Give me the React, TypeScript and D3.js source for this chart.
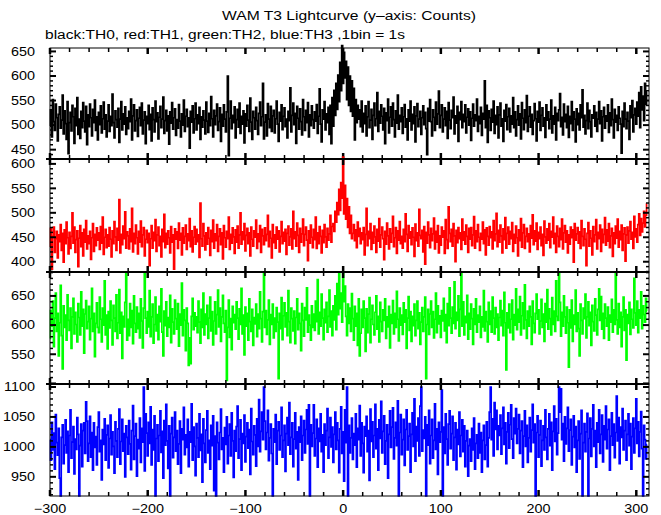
import React from 'react';
import * as d3 from 'd3';

const TIME_START = -300;

// TH0 (black) counts per 1 s bin, t = -300 ... 311
const th0 = [
498,531,476,552,507,489,543,515,468,522,
537,494,510,561,482,529,503,471,548,442,
505,526,488,540,517,463,534,499,556,481,
512,473,528,495,546,508,486,538,460,521,
497,543,515,478,532,505,551,489,517,470,
526,501,539,484,513,547,492,521,476,508,
541,487,518,499,563,505,474,529,511,496,
534,465,512,548,490,523,502,537,481,515,
493,528,507,553,470,519,541,488,509,531,
477,514,536,499,545,482,510,527,462,518,
503,540,491,522,468,535,511,486,549,507,
525,472,516,538,495,512,557,483,509,530,
488,519,461,527,504,546,492,515,533,479,
511,494,542,508,476,523,500,551,487,518,
532,497,515,453,528,506,539,484,513,545,
490,521,503,536,471,517,496,529,510,482,
547,508,485,524,499,558,513,476,530,501,
519,543,489,507,535,467,522,498,541,512,
486,527,600,438,514,549,493,520,505,537,
474,511,532,496,545,483,518,502,529,464,
523,498,540,510,487,555,506,471,528,515,
492,536,509,481,524,547,499,517,585,472,
506,521,478,544,512,495,538,487,519,530,
484,513,549,502,467,526,508,541,491,518,
535,497,512,474,528,509,576,486,520,545,
501,524,463,538,514,492,533,507,480,552,
517,489,530,505,546,476,521,499,539,511,
494,527,508,542,483,518,574,502,466,531,
512,548,490,523,505,536,481,540,462,556,
498,571,520,585,532,602,548,628,570,662,
585,648,596,630,552,618,540,600,528,590,
518,575,470,552,505,540,512,531,497,549,
486,524,503,539,478,517,548,495,510,532,
471,520,545,499,513,566,487,528,504,541,
518,490,534,462,525,509,553,484,516,537,
498,545,511,476,529,504,561,492,520,507,
535,483,517,542,496,513,470,531,508,549,
490,522,503,537,466,519,544,497,512,528,
481,515,539,501,526,493,440,534,508,552,
507,478,531,516,489,547,502,523,569,495,
520,541,486,512,535,499,528,473,546,510,
493,530,515,557,482,519,504,538,467,526,
511,548,495,522,507,541,484,516,533,500,
527,469,514,543,498,521,509,553,487,518,
503,536,479,524,512,590,495,540,465,529,
515,489,532,506,549,483,520,501,537,474,
521,545,498,513,467,530,508,542,491,517,
534,486,519,502,556,495,527,478,511,539,
500,523,472,546,514,491,531,505,560,487,
518,537,496,522,481,509,544,513,468,528,
506,547,489,520,535,498,515,475,541,510,
527,493,512,551,484,519,502,536,470,524,
509,531,564,497,516,480,543,507,522,495,
538,475,518,503,548,489,527,512,466,533,
501,524,490,541,515,572,496,520,482,509,
545,493,530,507,476,521,514,539,498,526,
487,512,548,503,529,468,517,536,494,519,
508,541,485,525,499,553,511,474,532,506,
520,489,537,514,502,443,528,497,545,512,
493,526,508,471,539,515,550,486,521,534,
502,547,518,566,495,578,531,559,509,585,
542,568
];

// TH1 (red)
const th1 = [
430,468,385,452,471,419,447,462,408,455,
441,476,423,458,399,465,437,481,449,416,
460,427,452,500,438,471,419,445,463,390,
448,474,431,459,412,466,440,484,426,453,
437,462,405,449,478,421,456,433,469,444,
459,425,472,438,491,415,450,466,429,455,
432,470,446,410,463,437,482,451,423,468,
444,527,418,456,435,473,447,502,428,461,
453,426,467,441,509,420,458,437,475,449,
416,462,440,483,431,455,470,412,446,464,
439,458,392,447,474,428,460,443,486,421,
455,471,433,452,410,466,441,497,429,458,
436,463,449,418,472,440,455,385,467,446,
461,427,479,444,458,414,469,438,452,475,
425,457,443,488,431,463,420,450,472,436,
466,441,455,409,520,447,432,478,453,424,
459,436,470,448,413,464,441,485,428,457,
443,476,421,452,467,435,459,406,474,449,
430,462,447,491,425,456,438,469,451,417,
465,440,473,428,455,500,436,461,445,478,
422,454,468,437,459,412,471,446,432,463,
450,485,427,457,441,474,419,466,453,435,
469,443,456,495,431,462,448,408,476,439,
455,428,471,446,463,420,452,482,437,460,
442,466,415,458,473,434,451,467,426,503,
447,461,432,479,454,419,468,440,457,487,
433,456,471,444,402,463,438,475,450,429,
466,445,491,427,459,437,472,452,418,464,
439,476,451,430,468,444,457,495,440,472,
478,462,503,481,521,496,548,505,562,530,
614,498,556,487,529,470,512,458,495,447,
458,476,443,465,429,481,452,468,437,459,
445,470,414,456,509,433,462,447,478,425,
460,438,473,451,419,466,442,488,430,455,
471,447,404,462,436,479,453,426,467,440,
458,493,431,449,470,417,463,444,482,437,
452,428,466,441,498,456,421,474,448,461,
435,469,450,411,477,443,459,432,507,454,
447,464,420,472,395,460,438,481,455,429,
468,443,457,489,426,462,440,474,418,453,
434,471,450,463,417,486,445,427,512,458,
441,466,432,478,453,400,464,439,470,447,
459,425,487,444,461,436,475,452,419,468,
446,470,433,455,492,428,463,441,476,450,
423,458,446,481,437,465,414,469,452,434,
472,449,461,426,484,443,457,499,431,464,
440,475,453,418,467,445,490,428,458,471,
436,462,447,480,421,456,438,473,449,412,
465,443,488,430,459,476,427,452,468,441,
457,420,474,448,496,435,463,442,479,425,
460,447,471,433,456,413,483,451,438,467,
444,478,429,462,450,491,437,458,419,473,
452,431,468,445,487,426,459,474,440,463,
418,455,436,471,449,465,399,478,444,457,
470,438,461,427,484,452,433,467,446,392,
458,480,432,463,448,414,472,441,455,486,
426,460,447,475,421,466,439,456,490,434,
465,442,478,429,453,468,411,459,437,473,
448,487,430,462,445,475,423,457,469,401,
455,471,438,463,482,446,460,427,493,451,
467,440,476,498,454,488,461,479,503,471,
495,518
];

// TH2 (green)
const th2 = [
577,625,598,641,563,612,655,589,620,547,
604,668,582,525,633,596,617,574,652,608,
591,629,560,614,646,585,622,601,571,637,
613,583,657,598,627,552,619,642,594,606,
632,575,611,663,589,620,546,603,638,596,
587,648,610,571,629,600,676,583,617,559,
623,595,641,608,566,634,612,589,652,577,
604,661,586,622,543,615,597,639,688,574,
610,582,637,596,625,568,650,603,588,631,
594,620,578,645,607,561,629,688,612,586,
623,597,659,580,614,636,569,601,648,590,
618,575,632,606,662,588,547,624,599,640,
581,613,596,651,570,628,605,585,643,611,
593,637,564,619,600,672,582,626,608,556,
629,603,531,578,534,615,646,592,621,598,
614,587,641,605,569,627,596,655,583,619,
601,634,577,612,648,590,623,566,607,640,
585,618,660,597,629,572,614,651,603,588,
625,505,596,643,579,611,558,632,604,618,
593,640,612,576,628,601,663,585,617,549,
631,598,620,574,645,606,589,627,565,613,
602,636,580,619,594,657,611,571,623,688,
596,625,584,609,643,567,618,601,636,578,
612,589,630,605,508,620,594,647,575,616,
638,597,621,582,659,606,570,629,611,590,
624,568,613,645,592,620,603,556,637,608,
581,630,609,664,588,617,600,574,633,596,
619,591,641,606,678,585,622,598,653,612,
575,627,604,639,588,615,660,597,624,582,
633,609,650,592,671,618,690,628,655,605,
688,640,667,615,582,636,603,629,589,654,
611,574,632,598,620,565,645,547,586,627,
596,641,612,555,628,587,619,647,570,610,
634,601,583,622,650,593,615,571,639,606,
589,626,608,645,577,614,597,632,561,618,
603,642,585,620,596,658,610,573,629,600,
617,584,638,605,626,560,612,649,591,623,
572,615,599,636,582,608,641,594,621,567,
605,630,589,614,648,508,601,627,584,619,
641,596,623,578,610,655,587,633,602,616,
579,625,607,646,590,618,570,637,599,664,
612,586,631,603,674,594,622,608,650,581,
627,690,598,640,583,615,604,651,576,620,
593,636,611,567,628,601,645,588,617,605,
632,579,614,597,659,590,623,606,571,639,
601,624,588,648,612,585,630,596,619,574,
613,642,599,625,582,656,604,523,621,595,
636,587,610,643,575,618,600,662,592,627,
605,649,583,616,638,594,669,609,577,624,
598,632,614,567,641,603,587,620,653,610,
626,585,607,644,596,619,572,637,605,661,
593,628,611,583,647,601,624,589,676,615,
608,690,639,581,622,598,650,614,586,631,
604,528,626,595,643,572,617,601,660,589,
621,594,547,636,608,585,629,611,653,578,
614,640,599,622,565,634,606,590,645,617,
583,627,662,608,649,593,620,577,636,612,
598,631,574,617,605,644,588,626,601,690,
609,585,637,596,622,563,614,648,591,626,
540,618,603,639,584,627,610,595,680,621,
600,641,587,626,612,657,594,633,618,605,
646,624
];

// TH3 (blue)
const th3 = [
1012,978,1041,995,1023,963,1054,1007,986,1031,
948,918,1016,1037,972,1003,1045,990,1026,958,
1019,1062,981,1008,1034,955,1013,996,1049,1021,
918,1002,1038,967,1027,1040,989,1075,1043,976,
1006,1051,983,1024,961,1040,999,1017,970,1033,
1058,992,1011,945,1029,1004,1047,978,1020,1036,
965,1014,1053,987,1025,1001,956,1042,1010,983,
1030,1063,971,1009,1046,993,1022,950,1035,1016,
988,1044,1005,962,1027,1069,979,1018,1039,951,
1012,997,1048,974,1031,1008,1100,960,1055,1023,
985,1041,1006,1067,970,1029,995,1052,918,1014,
1037,976,1019,1060,991,1026,948,1044,1003,1071,
1010,964,1035,918,1022,1049,982,1016,1058,993,
1027,971,1005,1043,956,1030,1012,1066,987,1020,
999,1046,967,1025,1008,1072,978,1033,1001,952,
1039,1015,983,1055,994,1021,941,1047,1006,974,
1028,1060,990,1011,963,1036,1002,1052,927,1018,
918,1041,1007,979,1024,1063,996,1015,958,1032,
1004,1050,972,1019,1038,985,1057,1010,949,1027,
993,1034,1068,981,1013,1045,961,1022,1006,1053,
975,1017,1040,998,1029,954,1064,1009,987,1035,
1020,968,1047,1001,1079,992,1026,1058,1012,1100,
1043,996,1024,1061,977,1015,1038,989,918,1030,
1008,1054,971,1027,1042,995,1019,1066,983,1011,
1036,959,1022,1049,1003,1074,988,1016,1040,967,
1013,1057,997,1025,945,1033,1008,1051,978,1019,
1044,990,1029,1062,1005,1070,918,1037,1001,1023,
1070,985,1014,1046,966,1031,1009,1055,992,1020,
958,1038,1003,1027,1064,981,1016,1049,1000,1033,
974,1021,1058,996,1040,1011,957,1030,1067,989,
1025,943,1062,1007,1100,918,1036,990,1015,1048,
979,1022,1003,1055,966,1031,1012,1069,985,1040,
1006,957,1034,1018,1051,992,1027,944,1063,1009,
1042,983,1019,1071,997,1030,961,1045,1014,1076,
990,1026,1052,971,1010,1037,948,1021,1060,999,
1033,1065,980,1015,1041,1002,1077,918,1024,1054,
987,1012,1046,969,1029,1062,995,1018,1039,958,
1021,1057,1001,1080,976,1034,1010,1048,985,1068,
1100,993,1028,1014,1050,918,1037,1003,1061,972,
1019,1046,981,1011,1072,996,1030,954,1041,1008,
1025,1095,918,1033,989,1055,1013,970,1038,1060,
997,1022,1051,978,1016,1040,962,1029,1004,1058,
984,1019,1045,992,1035,967,1010,1027,951,1002,
1013,976,1031,995,1048,963,1006,1020,981,1039,
990,1024,958,1011,1036,979,1003,1042,967,1015,
1058,1100,1012,1047,985,1074,1029,1061,996,1035,
1019,1053,988,1031,1066,1004,1040,972,1025,1057,
998,1037,1070,1013,981,1048,1022,1064,1006,1030,
1054,989,1027,1043,966,1018,1060,1001,1036,974,
1015,1049,992,1028,1071,1007,1038,918,1024,1052,
983,1020,1044,968,1011,1035,995,1062,1016,979,
1030,1055,1002,1041,961,1026,1068,1009,1047,987,
1023,1100,1058,1097,1012,1039,976,1050,1005,1031,
1066,993,1028,1046,970,1017,1052,999,1034,958,
1011,1043,980,1022,1061,918,1007,1039,992,1025,
1056,918,1014,1048,984,1030,1070,1001,1027,966,
1040,1008,1062,989,1021,1053,975,1035,1012,1068,
997,1029,1046,961,1018,1057,1003,1038,982,1024,
1085,1010,1049,972,1033,1016,1064,995,1027,1044,
978,1021,1055,1002,1039,963,1017,1048,990,1031,
1080,1006,1042,984,1025,1059,997,918,1036,1012,
980,1004
];

const xTickLabels = [-300, -200, -100, 0, 100, 200, 300];
const yTicks0 = [450, 500, 550, 600, 650];
const yTicks1 = [400, 450, 500, 550, 600];
const yTicks2 = [550, 600, 650];
const yTicks3 = [950, 1000, 1050, 1100];
const titleText = 'WAM T3 Lightcurve (y\u2013axis: Counts)';
const subtitleText = 'black:TH0, red:TH1, green:TH2, blue:TH3 ,1bin = 1s';

const FONT = '"Liberation Sans", Arial, Helvetica, sans-serif';

const X0 = 50;
const X1 = 649;

const panelDefs = [
  { data: th0, color: '#000000', top: 48, bottom: 159, domain: [431, 657], ticks: yTicks0 },
  { data: th1, color: '#ff0000', top: 159, bottom: 272, domain: [379, 610], ticks: yTicks1 },
  { data: th2, color: '#00ff00', top: 272, bottom: 384, domain: [499, 691], ticks: yTicks2 },
  { data: th3, color: '#0000ff', top: 384, bottom: 496, domain: [918, 1105], ticks: yTicks3 },
];

const fmt = (v: number) => (v < 0 ? '\u2212' + Math.abs(v) : String(v));

export default function App() {
  const x = d3.scaleLinear().domain([-300, 313]).range([X0, X1]);
  const xMinor = d3.range(-300, 314, 20);

  return (
    <div style={{ position: 'absolute', left: 0, top: 0 }}>
      <svg width={661} height={515} style={{ display: 'block', background: '#fff' }} fontFamily={FONT}>
        <rect x={0} y={0} width={661} height={515} fill="#fff" />
        <text x={222} y={20} fontSize={12.5} textLength={254} lengthAdjust="spacingAndGlyphs">{titleText}</text>
        <text x={45} y={39} fontSize={12.5} textLength={360} lengthAdjust="spacingAndGlyphs">{subtitleText}</text>
        {panelDefs.map((p, pi) => {
          const y = d3.scaleLinear().domain(p.domain).range([p.bottom, p.top]);
          const line = d3
            .line<number>()
            .x((_, i) => x(TIME_START + i))
            .y((d) => y(d))
            .curve(d3.curveStep);
          const yMinor = d3.range(Math.ceil(p.domain[0] / 10) * 10, p.domain[1] + 0.001, 10);
          return (
            <g key={pi}>
              <path d={line(p.data) || ''} fill="none" stroke={p.color} strokeWidth={1.7} />
              <rect x={X0} y={p.top} width={X1 - X0} height={p.bottom - p.top} fill="none" stroke="#000" strokeWidth={1} />
              {pi > 0 && <line x1={X0 - 4} x2={X1} y1={p.top} y2={p.top} stroke="#000" strokeWidth={2} />}
              {xMinor.map((t) => {
                const major = t % 100 === 0;
                const len = major ? 6 : 4;
                const sw = major ? 2.5 : 1.5;
                return (
                  <g key={'x' + t}>
                    <line x1={x(t)} x2={x(t)} y1={p.top} y2={p.top + len} stroke="#000" strokeWidth={sw} />
                    <line x1={x(t)} x2={x(t)} y1={p.bottom} y2={p.bottom - len} stroke="#000" strokeWidth={sw} />
                  </g>
                );
              })}
              {yMinor.map((v) => {
                const major = v % 50 === 0;
                const len = major ? 6 : 3;
                const sw = major ? 2 : 1.5;
                return (
                  <g key={'y' + v}>
                    <line x1={X0} x2={X0 + len} y1={y(v)} y2={y(v)} stroke="#000" strokeWidth={sw} />
                    <line x1={X1} x2={X1 - len} y1={y(v)} y2={y(v)} stroke="#000" strokeWidth={sw} />
                  </g>
                );
              })}
              {p.ticks.map((v) => (
                <text
                  key={'l' + v}
                  transform={`translate(35,${y(v)}) scale(1.2,1)`}
                  dy="0.36em"
                  fontSize={12}
                  textAnchor="end"
                >
                  {v}
                </text>
              ))}
            </g>
          );
        })}
        {xTickLabels.map((t) => (
          <text
            key={'xl' + t}
            transform={`translate(${x(t)},513) scale(1.2,1)`}
            fontSize={12}
            textAnchor="middle"
          >
            {fmt(t)}
          </text>
        ))}
      </svg>
    </div>
  );
}
